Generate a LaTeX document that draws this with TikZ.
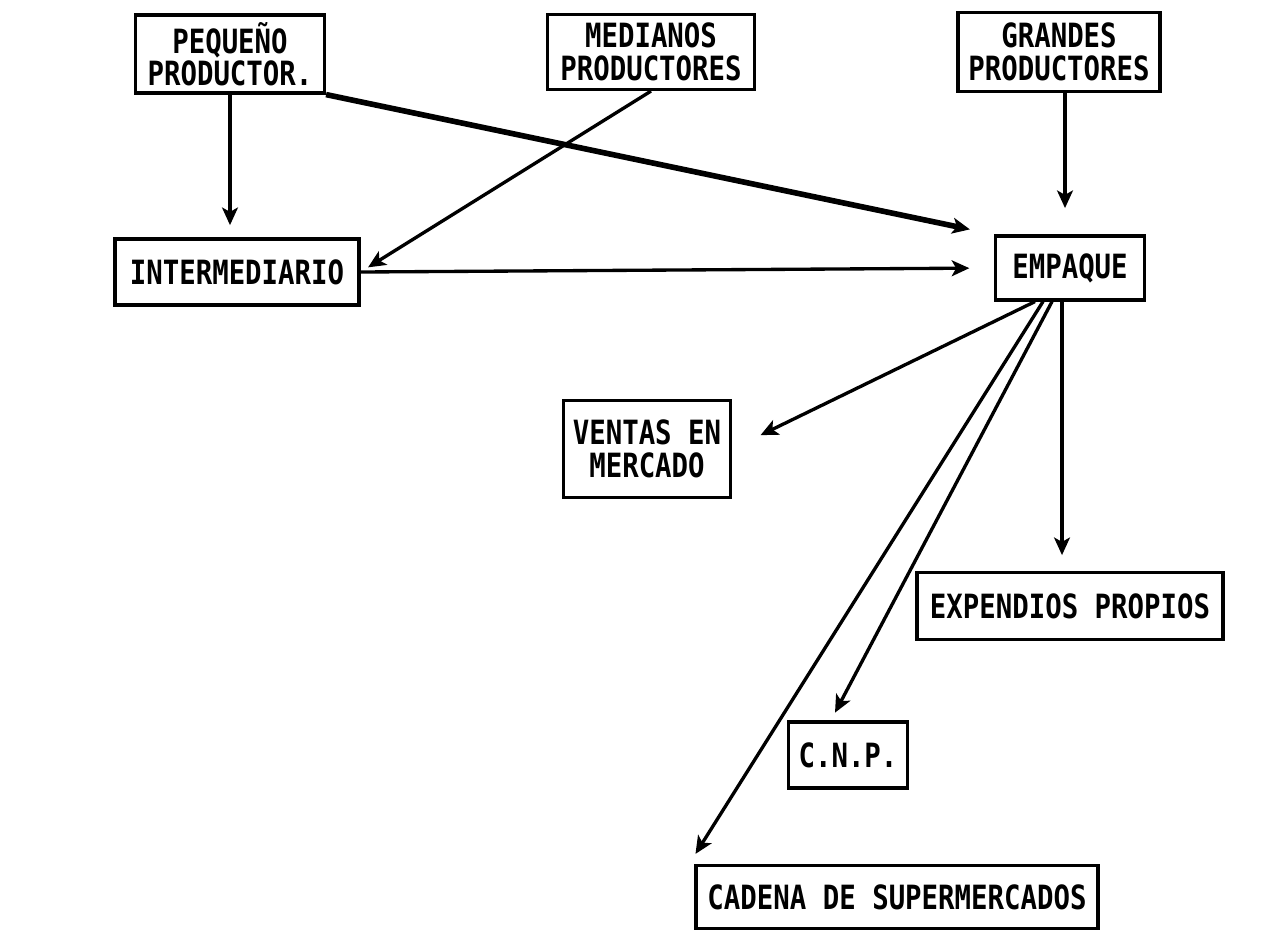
\documentclass[tikz,border=0pt]{standalone}
\usepackage{fontspec}
\setmonofont[FakeStretch=0.82]{DejaVu Sans Mono}
\usetikzlibrary{arrows.meta,calc}
\tikzset{
    %Define standard arrow tip
    >={Stealth[length=10pt,width=9pt,inset=2.5pt]},
    %Define style for boxes
    caja/.style={
           rectangle,
           draw=black, line width=1.8pt,
           inner sep=0pt,
           font=\ttfamily\bfseries\fontsize{19}{18.5}\selectfont,
           align=center},
    % Define arrow styles
    flecha/.style={
           ->,
           line width=1.9pt},
    gruesa/.style={
           ->,
           line width=3.2pt}
}

\begin{document}
\begin{tikzpicture}[x=0.02cm,y=-0.02cm]
\useasboundingbox (0,0) rectangle (1267,931);
\node[caja, minimum width=3.78cm, minimum height=1.56cm] (peq) at (230,54) {PEQUEÑO\\PRODUCTOR.};
\node[caja, minimum width=4.14cm, minimum height=1.5cm] (med) at (651,52) {MEDIANOS\\PRODUCTORES};
\node[caja, minimum width=4.04cm, minimum height=1.58cm] (gra) at (1059,52) {GRANDES\\PRODUCTORES};
\node[caja, minimum width=4.88cm, minimum height=1.32cm] (inter) at (237,272) {INTERMEDIARIO};
\node[caja, minimum width=2.98cm, minimum height=1.28cm] (emp) at (1070,268) {EMPAQUE};
\node[caja, minimum width=3.34cm, minimum height=1.94cm] (ventas) at (647,449) {VENTAS EN\\MERCADO};
\node[caja, minimum width=6.12cm, minimum height=1.34cm] (exp) at (1070,606) {EXPENDIOS PROPIOS};
\node[caja, minimum width=2.38cm, minimum height=1.32cm] (cnp) at (848,755) {C.N.P.};
\node[caja, minimum width=8.04cm, minimum height=1.26cm] (cad) at (897,897) {CADENA DE SUPERMERCADOS};

% salidas de empaque
\coordinate (e1) at ($(emp.south)+(-35,0)$);
\coordinate (e2) at ($(emp.south)+(-27,0)$);
\coordinate (e3) at ($(emp.south)+(-18,0)$);
\coordinate (e4) at ($(emp.south)+(-8,0)$);
\coordinate (g1) at ($(gra.south)+(6,0)$);

% productores
\draw[flecha, shorten >=7pt] (peq.south) -- (peq.south |- inter.north);
\draw[gruesa, shorten >=14pt] (peq.south east) -- (emp.north west);
\draw[flecha, shorten >=5pt] (med.south) -- (inter.east);
\draw[flecha, shorten >=15pt] (g1) -- (g1 |- emp.north);
\draw[flecha, shorten >=14pt] (inter.east) -- (emp.west);

% empaque
\draw[flecha, shorten >=18pt] (e1) -- (ventas.east);
\draw[flecha, shorten >=9pt] (e4) -- (e4 |- exp.north);
\draw[flecha, shorten >=5pt] (e3) -- ($(cnp.north west)!0.36!(cnp.north east)$);
\draw[flecha] (e2) -- ($(cad.north west)+(1,-10)$);
\end{tikzpicture}
\end{document}
